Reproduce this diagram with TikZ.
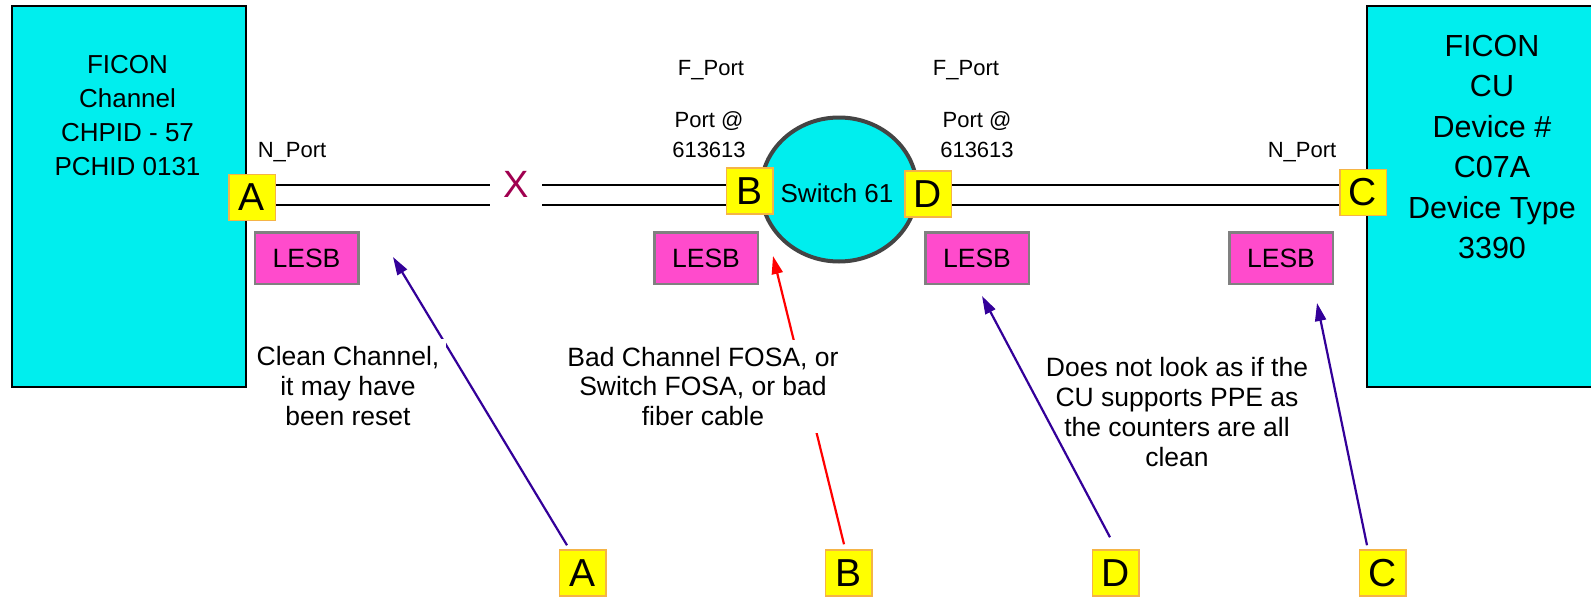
\documentclass[tikz,border=0pt]{standalone}
\usepackage{fontspec}
\setmainfont{Liberation Sans}
\usetikzlibrary{arrows.meta,shapes.geometric,calc}

\definecolor{boxcyan}{RGB}{0,238,238}
\definecolor{portyellow}{RGB}{255,255,0}
\definecolor{portedge}{RGB}{245,180,70}
\definecolor{lesbpink}{RGB}{255,75,204}
\definecolor{lesbedge}{RGB}{128,128,128}
\definecolor{notepurple}{RGB}{51,0,153}
\definecolor{faultred}{RGB}{255,0,0}
\definecolor{breakmark}{RGB}{160,0,80}
\definecolor{ringgray}{RGB}{68,68,68}

\tikzset{
  device/.style={draw=black, line width=2.5pt, fill=boxcyan, inner sep=0pt},
  porttag/.style={draw=portedge, line width=1.5pt, fill=portyellow,
    minimum width=46.5pt, minimum height=46pt, inner sep=0pt,
    font=\fontsize{39}{39}\selectfont},
  lesb/.style={draw=lesbedge, line width=2.5pt, fill=lesbpink,
    minimum width=103.5pt, minimum height=51.5pt, inner sep=0pt,
    font=\fontsize{26.5}{26.5}\selectfont},
  smalllabel/.style={font=\fontsize{22}{30}\selectfont, inner sep=0pt, align=center},
  note/.style={align=center, font=\fontsize{26.5}{29.8}\selectfont, inner sep=7pt},
  pointer/.style={line width=2.2pt, -{Triangle[length=18pt,width=11pt]}},
  fiber/.style={line width=2pt, draw=black},
}

\begin{document}
\begin{tikzpicture}[x=1pt,y=-1pt]
\useasboundingbox (0,0) rectangle (1591,597);

% end devices
\node[device, minimum width=234pt, minimum height=381pt] (chan) at (129,196.5) {};
\node[align=center, font=\fontsize{26}{34}\selectfont, inner sep=0pt] (chantext) at (127.5,116)
  {FICON\\Channel\\CHPID - 57\\PCHID 0131};
\node[device, minimum width=233pt, minimum height=381pt] (cu) at (1483.5,196.5) {};
\node[align=center, font=\fontsize{30.5}{40.4}\selectfont, inner sep=0pt] (cutext) at (1492,147)
  {FICON\\CU\\Device \#\\C07A\\Device Type\\3390};

% port labels
\node[smalllabel, anchor=base] (nportL) at (292,157) {N\_Port};
\node[smalllabel, anchor=base] (nportR) at (1302,157) {N\_Port};
\node[smalllabel, anchor=base] (fportL) at (711,75) {F\_Port};
\node[smalllabel, anchor=base] (fportR) at (966,75) {F\_Port};
\node[smalllabel] (addrL) at (709,135) {Port @\\613613};
\node[smalllabel] (addrR) at (977,135) {Port @\\613613};

% fiber levels and the break in the link
\coordinate (fibTop) at (0,185);
\coordinate (fibBot) at (0,204.5);
\coordinate (cutW) at (490,0);
\coordinate (cutE) at (542,0);
\node[text=breakmark, font=\fontsize{38}{38}\selectfont, inner sep=0pt] (cut) at (516,184) {X};

% switch
\node[ellipse, draw=ringgray, line width=4pt, fill=boxcyan, minimum width=156pt,
      minimum height=144pt, inner sep=0pt] (sw) at (839,189.5) {};
\node[font=\fontsize{26}{26}\selectfont, inner sep=0pt] (swtext) at (837,193) {Switch 61};

% ports
\node[porttag] (pA) at (252,197.5) {A};
\node[porttag] (pB) at (749.5,191) {B};
\node[porttag] (pD) at (928,194) {D};
\node[porttag] (pC) at (1363,192.5) {C};

% fiber links
\foreach \lvl in {fibTop,fibBot} {
  \draw[fiber] (pA.east |- \lvl) -- (cutW |- \lvl);
  \draw[fiber] (cutE |- \lvl) -- (pB.west |- \lvl);
  \draw[fiber] (pD.east |- \lvl) -- (pC.west |- \lvl);
}
% redraw ports over the link ends
\node[porttag] at (pA) {A};
\node[porttag] at (pB) {B};
\node[porttag] at (pD) {D};
\node[porttag] at (pC) {C};

% LESB counters
\node[lesb] (lesbA) at (306.5,258) {LESB};
\node[lesb] (lesbB) at (706,258) {LESB};
\node[lesb] (lesbD) at (977,258) {LESB};
\node[lesb] (lesbC) at (1281,258) {LESB};

% callout tags
\node[porttag] (bA) at (582.5,573) {A};
\node[porttag] (bB) at (848.5,573) {B};
\node[porttag] (bD) at (1115.5,573) {D};
\node[porttag] (bC) at (1382.5,573) {C};

% pointer tips
\coordinate (tipA) at (393,257);
\coordinate (tipB) at (773,256);
\coordinate (tipD) at (982,296);
\coordinate (tipC) at (1317,303);

\draw[pointer, notepurple] ($(bA.north)+(-15.5,-4)$) -- (tipA);
\draw[pointer, faultred] ($(bB.north)+(-4.5,-5)$) -- (tipB);
\draw[pointer, notepurple] ($(bD.north)+(-5.5,-12)$) -- (tipD);
\draw[pointer, notepurple] ($(bC.north)+(-15.5,-4)$) -- (tipC);

% notes
\node[note, fill=white] (noteA) at (348,386) {Clean Channel,\\it may have\\been reset};
\node[note, fill=white] (noteB) at (703,386.5) {Bad Channel FOSA, or\\Switch FOSA, or bad\\fiber cable};
\node[note] (noteD) at (1177,412) {Does not look as if the\\CU supports PPE as\\the counters are all\\clean};
\end{tikzpicture}
\end{document}
